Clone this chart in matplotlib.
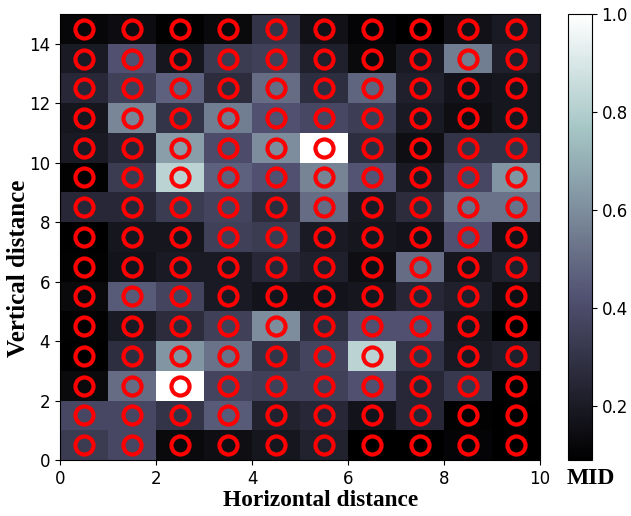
import numpy as np
import matplotlib
matplotlib.use("Agg")
import matplotlib.pyplot as plt

# rows from y=0 (bottom) to y=14 (top); columns x=0..9
row_values = [
    [0.33, 0.38, 0.13, 0.15, 0.18, 0.23, 0.09, 0.09, 0.11, 0.09],  # 0
    [0.38, 0.38, 0.30, 0.45, 0.23, 0.25, 0.17, 0.25, 0.10, 0.09],  # 1
    [0.13, 0.50, 1.00, 0.37, 0.35, 0.35, 0.42, 0.25, 0.32, 0.10],  # 2
    [0.09, 0.28, 0.62, 0.52, 0.30, 0.37, 0.82, 0.30, 0.20, 0.22],  # 3
    [0.10, 0.20, 0.27, 0.35, 0.60, 0.28, 0.42, 0.42, 0.18, 0.09],  # 4
    [0.13, 0.45, 0.37, 0.20, 0.17, 0.17, 0.18, 0.25, 0.22, 0.15],  # 5
    [0.10, 0.17, 0.20, 0.20, 0.25, 0.22, 0.15, 0.50, 0.18, 0.22],  # 6
    [0.09, 0.18, 0.18, 0.35, 0.33, 0.20, 0.18, 0.17, 0.42, 0.16],  # 7
    [0.25, 0.25, 0.33, 0.37, 0.27, 0.50, 0.20, 0.27, 0.52, 0.52],  # 8
    [0.10, 0.33, 0.82, 0.47, 0.42, 0.57, 0.43, 0.20, 0.38, 0.62],  # 9
    [0.20, 0.25, 0.65, 0.40, 0.60, 1.00, 0.28, 0.15, 0.30, 0.30],  # 10
    [0.18, 0.58, 0.30, 0.55, 0.42, 0.38, 0.34, 0.20, 0.15, 0.18],  # 11
    [0.25, 0.35, 0.47, 0.27, 0.50, 0.28, 0.48, 0.22, 0.17, 0.18],  # 12
    [0.20, 0.42, 0.18, 0.33, 0.35, 0.22, 0.13, 0.20, 0.55, 0.22],  # 13
    [0.12, 0.14, 0.10, 0.13, 0.30, 0.16, 0.11, 0.09, 0.16, 0.20],  # 14
]
x_ticks = [0, 2, 4, 6, 8, 10]
y_ticks = [0, 2, 4, 6, 8, 10, 12, 14]
cbar_ticks = [0.2, 0.4, 0.6, 0.8, 1.0]

Z = np.array(row_values)
ny, nx = Z.shape
xe = np.arange(nx + 1)
ye = np.arange(ny + 1)

fig = plt.figure(figsize=(6.31, 5.16), dpi=100)
ax = fig.add_axes([0.095, 0.1085, 0.761, 0.8645])
cax = fig.add_axes([0.900, 0.1085, 0.038, 0.8645])

mesh = ax.pcolormesh(xe, ye, Z, cmap="bone", vmin=0.09, vmax=1.0)
xc, yc = np.meshgrid(np.arange(nx) + 0.5, np.arange(ny) + 0.5)
ax.plot(xc.ravel(), yc.ravel(), linestyle="none", marker="o", markersize=13,
        markerfacecolor="none", markeredgecolor="red", markeredgewidth=3.0)
ax.set_xlim(0, nx)
ax.set_ylim(0, ny)
ax.set_xticks(x_ticks)
ax.set_yticks(y_ticks)
ax.tick_params(labelsize=12)

fig.text(321 / 631, 1 - 501 / 516, "Horizontal distance", ha="center", va="center",
         family="Liberation Serif", weight="bold", size=16.8)
fig.text(19 / 631, 1 - 268 / 516, "Vertical distance", ha="center", va="center",
         rotation=90, family="Liberation Serif", weight="bold", size=18)

cb = fig.colorbar(mesh, cax=cax, ticks=cbar_ticks)
cb.ax.tick_params(labelsize=12)
fig.text(590.5 / 631, 1 - 479 / 516, "MID", ha="center", va="center",
         family="Liberation Serif", weight="bold", size=17)

fig.savefig("out.png", dpi=100)
